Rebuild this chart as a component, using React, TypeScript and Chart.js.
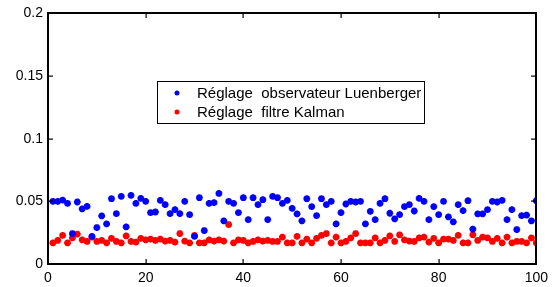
import React, { useEffect, useRef } from "react";
import { Chart, registerables } from "chart.js";

Chart.register(...registerables);

const xValues: number[] = Array.from({ length: 100 }, (_, i) => i + 1);

const luenberger: number[] = [
  0.05, 0.05, 0.051, 0.0484, 0.0243, 0.0495, 0.044, 0.046, 0.022, 0.0291,
  0.0384, 0.032, 0.0521, 0.0402, 0.054, 0.0296, 0.0548, 0.0484, 0.0524, 0.05,
  0.041, 0.0415, 0.0508, 0.0474, 0.0402, 0.0434, 0.0402, 0.05, 0.0394, 0.022,
  0.0529, 0.0267, 0.0484, 0.049, 0.0563, 0.0344, 0.05, 0.0484, 0.041, 0.0529,
  0.0354, 0.0529, 0.0474, 0.0513, 0.0354, 0.054, 0.0529, 0.0484, 0.0508, 0.0444,
  0.04, 0.0344, 0.0521, 0.0458, 0.0386, 0.0521, 0.0474, 0.05, 0.032, 0.041,
  0.0479, 0.05, 0.0495, 0.05, 0.032, 0.042, 0.0354, 0.0484, 0.0521, 0.0405,
  0.036, 0.0394, 0.0458, 0.0474, 0.0423, 0.0524, 0.05, 0.0354, 0.0458, 0.0394,
  0.05, 0.0376, 0.0336, 0.0474, 0.0426, 0.0505, 0.0278, 0.04, 0.04, 0.0434,
  0.05, 0.0495, 0.0508, 0.0354, 0.0434, 0.0275, 0.0386, 0.039, 0.0344, 0.0505,
];

const kalman: number[] = [
  0.0169, 0.0188, 0.0228, 0.0169, 0.0209, 0.0238, 0.0193, 0.018, 0.0214, 0.018,
  0.0188, 0.0169, 0.0204, 0.018, 0.0169, 0.0225, 0.018, 0.0175, 0.0204, 0.0193,
  0.0198, 0.0188, 0.0198, 0.0183, 0.0188, 0.0175, 0.0243, 0.0183, 0.0169, 0.0228,
  0.0169, 0.0169, 0.0193, 0.0183, 0.0193, 0.0183, 0.0315, 0.0169, 0.0193, 0.0188,
  0.0169, 0.018, 0.0193, 0.0183, 0.0188, 0.018, 0.018, 0.0214, 0.0169, 0.0169,
  0.022, 0.0169, 0.0198, 0.0169, 0.0204, 0.0228, 0.0243, 0.0169, 0.0214, 0.0169,
  0.018, 0.0209, 0.0243, 0.0169, 0.0169, 0.0169, 0.0209, 0.0169, 0.0188, 0.0225,
  0.018, 0.0233, 0.0193, 0.0183, 0.018, 0.0209, 0.0214, 0.0175, 0.0204, 0.0169,
  0.0198, 0.0198, 0.0188, 0.0228, 0.0169, 0.0169, 0.0233, 0.0188, 0.0214, 0.0209,
  0.018, 0.0204, 0.0169, 0.0214, 0.0169, 0.018, 0.018, 0.0169, 0.0209, 0.0169,
];

const xTicks: number[] = [0, 20, 40, 60, 80, 100];
const xTickLabels: string[] = ["0", "20", "40", "60", "80", "100"];
const yTicks: number[] = [0, 0.05, 0.1, 0.15, 0.2];
const yTickLabels: string[] = ["0", "0.05", "0.1", "0.15", "0.2"];

const seriesLabels: string[] = [
  "Réglage  observateur Luenberger",
  "Réglage  filtre Kalman",
];
const seriesColors: string[] = ["#0000ff", "#ff0000"];

const FONT = "'Liberation Sans', Arial, Helvetica, sans-serif";

const boxPlugin = {
  id: "matlabBox",
  afterDraw(chart: any) {
    const ctx = chart.ctx;
    const xs = chart.scales.x;
    const ys = chart.scales.y;
    const L = Math.round(xs.getPixelForValue(0));
    const R = Math.round(xs.getPixelForValue(100));
    const T = Math.round(ys.getPixelForValue(0.2));
    const B = Math.round(ys.getPixelForValue(0));
    ctx.save();
    ctx.globalCompositeOperation = "source-over";
    ctx.globalAlpha = 1;
    ctx.fillStyle = "#000000";
    ctx.fillRect(L - 1, T - 1, R - L + 2, 2);
    ctx.fillRect(L - 1, B - 1, R - L + 2, 2);
    ctx.fillRect(L - 1, T - 1, 2, B - T + 2);
    ctx.fillRect(R - 1, T - 1, 2, B - T + 2);
    const tl = 5;
    xTicks.forEach((v) => {
      const px = Math.round(xs.getPixelForValue(v));
      ctx.fillRect(px - 0.5, B - tl, 1.2, tl);
      ctx.fillRect(px - 0.5, T, 1.2, tl);
    });
    yTicks.forEach((v) => {
      const py = Math.round(ys.getPixelForValue(v));
      ctx.fillRect(L, py - 0.5, tl, 1.2);
      ctx.fillRect(R - tl, py - 0.5, tl, 1.2);
    });

    // legend box
    const bx = 157, by = 81, bw = 267, bh = 42;
    ctx.fillStyle = "#fff";
    ctx.fillRect(bx, by, bw, bh);
    ctx.fillStyle = "#000";
    ctx.fillRect(bx, by, bw + 1, 1);
    ctx.fillRect(bx, by + bh, bw + 1, 1);
    ctx.fillRect(bx, by, 1, bh + 1);
    ctx.fillRect(bx + bw, by, 1, bh + 1);
    ctx.font = `15px ${FONT}`;
    ctx.textBaseline = "middle";
    ctx.textAlign = "left";
    const rows = [93, 112];
    chart.data.datasets.forEach((ds: any, i: number) => {
      const y = rows[i];
      ctx.fillStyle = ds.borderColor;
      ctx.beginPath();
      ctx.arc(177, y, 2.5, 0, Math.PI * 2);
      ctx.fill();
      ctx.fillStyle = "#000";
      ctx.fillText(ds.label, 197, y + 0.5);
    });
    ctx.restore();
  },
};

export default function App() {
  const ref = useRef<HTMLCanvasElement | null>(null);
  useEffect(() => {
    document.body.style.margin = "0";
    const canvas = ref.current;
    if (!canvas) return;
    const chart = new Chart(canvas, {
      type: "scatter",
      data: {
        datasets: [luenberger, kalman].map((vals, si) => ({
          label: seriesLabels[si],
          data: vals.map((v, i) => ({ x: xValues[i], y: v })),
          pointStyle: "star",
          radius: 3.4,
          borderWidth: 2.2,
          borderColor: seriesColors[si],
          backgroundColor: seriesColors[si],
        })),
      },
      options: {
        responsive: false,
        animation: false,
        events: [],
        layout: { padding: { left: 0, right: 17, top: 13, bottom: 0 } },
        plugins: { legend: { display: false }, tooltip: { enabled: false } },
        scales: {
          x: {
            type: "linear",
            position: "bottom",
            min: 0,
            max: 100,
            afterBuildTicks: (scale: any) => {
              scale.ticks = xTicks.map((v) => ({ value: v }));
            },
            afterFit: (scale: any) => {
              scale.height = 23;
            },
            grid: { display: false, drawTicks: false },
            border: { display: true, color: "#000", width: 1 },
            ticks: {
              color: "#000",
              font: { family: FONT, size: 14 },
              padding: 6,
              maxRotation: 0,
              autoSkip: false,
              callback: (_v: any, idx: number) => xTickLabels[idx],
            },
          },
          y: {
            type: "linear",
            position: "left",
            min: 0,
            max: 0.2,
            afterBuildTicks: (scale: any) => {
              scale.ticks = yTicks.map((v) => ({ value: v }));
            },
            afterFit: (scale: any) => {
              scale.width = 48;
            },
            grid: { display: false, drawTicks: false },
            border: { display: true, color: "#000", width: 1 },
            ticks: {
              color: "#000",
              font: { family: FONT, size: 14 },
              padding: 5,
              autoSkip: false,
              callback: (_v: any, idx: number) => yTickLabels[idx],
            },
          },
        },
      },
      plugins: [boxPlugin],
    });
    return () => chart.destroy();
  }, []);
  return (
    <div style={{ width: 554, height: 287, background: "#fff" }}>
      <canvas ref={ref} width={554} height={287} style={{ display: "block" }} />
    </div>
  );
}
